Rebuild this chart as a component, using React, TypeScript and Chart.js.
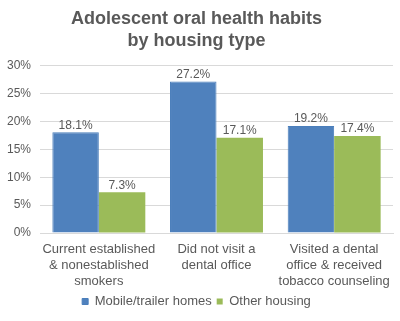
import React, { useEffect, useRef } from "react";
import { Chart, registerables } from "chart.js";

Chart.register(...registerables);

const titleLines = ["Adolescent oral health habits", "by housing type"];
const categories = [
  ["Current established", "& nonestablished", "smokers"],
  ["Did not visit a", "dental office"],
  ["Visited a dental", "office & received", "tobacco counseling"],
];
const seriesNames = ["Mobile/trailer homes", "Other housing"];
const mobileValues = [18.1, 27.2, 19.2];
const otherValues = [7.3, 17.1, 17.4];
const yTicks = [0, 5, 10, 15, 20, 25, 30];

const TEXT = "#595959";
const FONT = "'Liberation Sans', Arial, sans-serif";

const valueLabels = {
  id: "valueLabels",
  afterDatasetsDraw(chart: any) {
    const ctx = chart.ctx;
    ctx.save();
    ctx.font = `12px ${FONT}`;
    ctx.fillStyle = TEXT;
    ctx.textAlign = "center";
    ctx.textBaseline = "bottom";
    chart.data.datasets.forEach((ds: any, di: number) => {
      const meta = chart.getDatasetMeta(di);
      meta.data.forEach((bar: any, i: number) => {
        ctx.fillText(ds.data[i].toFixed(1) + "%", bar.x, bar.y - 1);
      });
    });
    ctx.restore();
  },
};

export default function App() {
  const ref = useRef<HTMLCanvasElement>(null);
  useEffect(() => {
    document.body.style.margin = "0";
    const chart = new Chart(ref.current!, {
      type: "bar",
      data: {
        labels: categories as any,
        datasets: [
          { label: seriesNames[0], data: mobileValues, backgroundColor: "#4F81BD", borderColor: "#4A7EBB", borderWidth: 1 },
          { label: seriesNames[1], data: otherValues, backgroundColor: "#9BBB59", borderWidth: 0 },
        ],
      },
      options: {
        animation: false,
        responsive: false,
        layout: { padding: { left: 0, right: 7, top: 0, bottom: 3 } },
        datasets: { bar: { categoryPercentage: 0.79, barPercentage: 1 } },
        plugins: {
          title: {
            display: true,
            text: titleLines,
            color: TEXT,
            font: { family: FONT, size: 18, weight: "bold", lineHeight: 1.22 },
            padding: { top: 8, bottom: 14 },
          },
          legend: {
            position: "bottom",
            labels: {
              color: TEXT,
              font: { family: FONT, size: 13 },
              boxWidth: 6,
              boxHeight: 6,
              padding: 5,
            },
          },
          tooltip: { enabled: false },
        },
        scales: {
          x: {
            grid: { display: false, drawTicks: false },
            border: { color: "#D9D9D9" },
            afterFit: (s: any) => {
              s.height = 57;
            },
            ticks: {
              color: TEXT,
              font: { family: FONT, size: 13, lineHeight: 1.2 },
              maxRotation: 0,
              padding: 9,
            },
          },
          y: {
            min: 0,
            max: 30,
            afterBuildTicks: (s: any) => {
              s.ticks = yTicks.map((v) => ({ value: v }));
            },
            afterFit: (s: any) => {
              s.width = 40;
            },
            grid: { color: "#D9D9D9", drawTicks: false },
            border: { display: false },
            ticks: {
              color: TEXT,
              font: { family: FONT, size: 12 },
              padding: 9,
              callback: (v: any) => v + "%",
            },
          },
        },
      },
      plugins: [valueLabels],
    });
    return () => chart.destroy();
  }, []);
  return (
    <div style={{ width: 400, height: 321 }}>
      <canvas ref={ref} width={400} height={321} />
    </div>
  );
}
